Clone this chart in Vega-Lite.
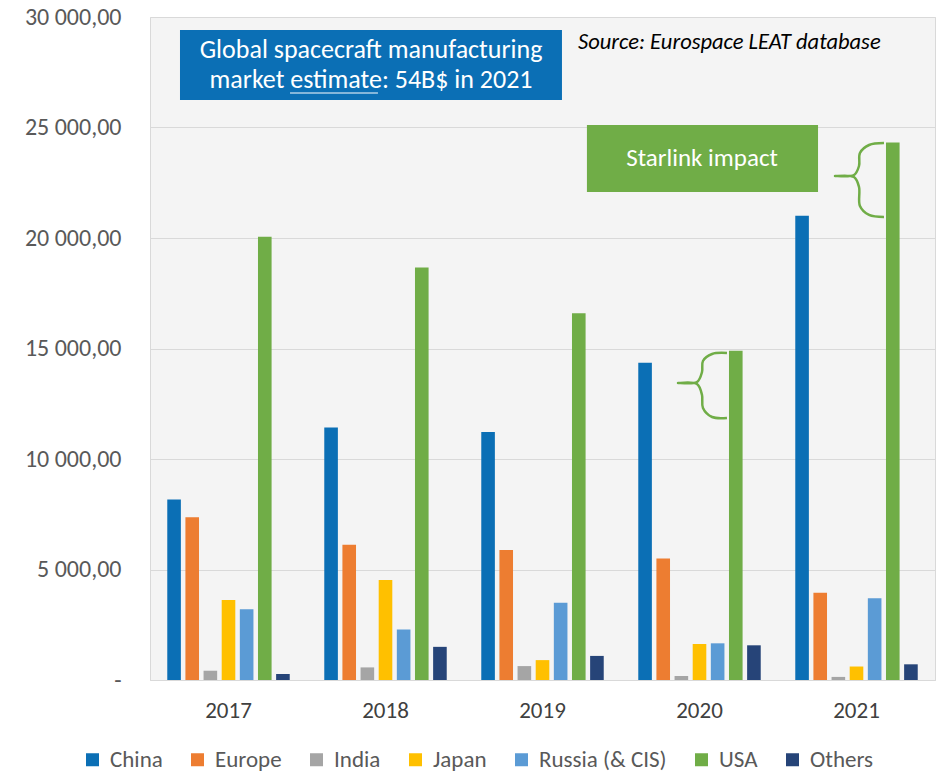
{
  "$schema": "https://vega.github.io/schema/vega-lite/v6.json",
  "width": 785,
  "height": 663,
  "autosize": {"type": "none"},
  "padding": {"left": 150, "top": 17, "right": 17, "bottom": 93},
  "background": "white",
  "config": {
    "font": "Carlito, Lato, sans-serif",
    "view": {"stroke": "#d9d9d9", "fill": "#f4f4f4"},
    "axis": {"labelFont": "Carlito, Lato, sans-serif", "labelFontSize": 23, "labelColor": "#595959"},
    "legend": {"labelFont": "Carlito, Lato, sans-serif"}
  },
  "datasets": {
    "market": [
      {"year": "2017", "region": "China", "value": 8170},
      {"year": "2017", "region": "Europe", "value": 7360},
      {"year": "2017", "region": "India", "value": 420},
      {"year": "2017", "region": "Japan", "value": 3620},
      {"year": "2017", "region": "Russia (& CIS)", "value": 3200},
      {"year": "2017", "region": "USA", "value": 20060},
      {"year": "2017", "region": "Others", "value": 270},
      {"year": "2018", "region": "China", "value": 11430},
      {"year": "2018", "region": "Europe", "value": 6120},
      {"year": "2018", "region": "India", "value": 570},
      {"year": "2018", "region": "Japan", "value": 4520},
      {"year": "2018", "region": "Russia (& CIS)", "value": 2290},
      {"year": "2018", "region": "USA", "value": 18670},
      {"year": "2018", "region": "Others", "value": 1500},
      {"year": "2019", "region": "China", "value": 11220},
      {"year": "2019", "region": "Europe", "value": 5880},
      {"year": "2019", "region": "India", "value": 630},
      {"year": "2019", "region": "Japan", "value": 900},
      {"year": "2019", "region": "Russia (& CIS)", "value": 3500},
      {"year": "2019", "region": "USA", "value": 16590},
      {"year": "2019", "region": "Others", "value": 1090},
      {"year": "2020", "region": "China", "value": 14360},
      {"year": "2020", "region": "Europe", "value": 5500},
      {"year": "2020", "region": "India", "value": 180},
      {"year": "2020", "region": "Japan", "value": 1630},
      {"year": "2020", "region": "Russia (& CIS)", "value": 1660},
      {"year": "2020", "region": "USA", "value": 14900},
      {"year": "2020", "region": "Others", "value": 1570},
      {"year": "2021", "region": "China", "value": 21010},
      {"year": "2021", "region": "Europe", "value": 3950},
      {"year": "2021", "region": "India", "value": 140},
      {"year": "2021", "region": "Japan", "value": 610},
      {"year": "2021", "region": "Russia (& CIS)", "value": 3700},
      {"year": "2021", "region": "USA", "value": 24320},
      {"year": "2021", "region": "Others", "value": 710}
    ],
    "braces": [
      {"brace": "2020", "i": 1, "u": 3.675, "v": 14796},
      {"brace": "2020", "i": 2, "u": 3.580, "v": 14751},
      {"brace": "2020", "i": 3, "u": 3.522, "v": 14434},
      {"brace": "2020", "i": 4, "u": 3.516, "v": 13937},
      {"brace": "2020", "i": 5, "u": 3.484, "v": 13484},
      {"brace": "2020", "i": 6, "u": 3.363, "v": 13439},
      {"brace": "2020", "i": 7, "u": 3.484, "v": 13394},
      {"brace": "2020", "i": 8, "u": 3.516, "v": 12896},
      {"brace": "2020", "i": 9, "u": 3.522, "v": 12308},
      {"brace": "2020", "i": 10, "u": 3.580, "v": 11900},
      {"brace": "2020", "i": 11, "u": 3.675, "v": 11855},
      {"brace": "2021", "i": 1, "u": 4.675, "v": 24299},
      {"brace": "2021", "i": 2, "u": 4.580, "v": 24208},
      {"brace": "2021", "i": 3, "u": 4.522, "v": 23846},
      {"brace": "2021", "i": 4, "u": 4.516, "v": 23258},
      {"brace": "2021", "i": 5, "u": 4.484, "v": 22851},
      {"brace": "2021", "i": 6, "u": 4.363, "v": 22805},
      {"brace": "2021", "i": 7, "u": 4.484, "v": 22760},
      {"brace": "2021", "i": 8, "u": 4.516, "v": 22308},
      {"brace": "2021", "i": 9, "u": 4.522, "v": 21448},
      {"brace": "2021", "i": 10, "u": 4.580, "v": 21041},
      {"brace": "2021", "i": 11, "u": 4.675, "v": 20950}
    ],
    "one": [{}]
  },
  "resolve": {"scale": {"x": "independent"}},
  "layer": [
    {
      "data": {"name": "market"},
      "mark": {"type": "bar"},
      "encoding": {
        "x": {
          "field": "year", "type": "nominal",
          "scale": {"paddingInner": 0.22, "paddingOuter": 0.11},
          "axis": {"title": null, "labelAngle": 0, "ticks": false, "domainColor": "#d9d9d9", "labelPadding": 19, "labelColor": "#404040"}
        },
        "xOffset": {
          "field": "region", "type": "nominal",
          "scale": {"domain": ["China", "Europe", "India", "Japan", "Russia (& CIS)", "USA", "Others"], "paddingInner": 0.25, "paddingOuter": 0}
        },
        "y": {
          "field": "value", "type": "quantitative",
          "scale": {"domain": [0, 30000], "nice": false},
          "axis": {
            "title": null, "values": [0, 5000, 10000, 15000, 20000, 25000, 30000],
            "domain": false, "ticks": false, "labelPadding": 29, "gridColor": "#d9d9d9", "labelFontSize": 24,
            "labelExpr": "datum.value == 0 ? '-' : replace(replace(format(datum.value, ',.2f'), ',', ' '), '.', ',')"
          }
        },
        "color": {
          "field": "region", "type": "nominal",
          "scale": {
            "domain": ["China", "Europe", "India", "Japan", "Russia (& CIS)", "USA", "Others"],
            "range": ["#0B6FB5", "#ED7D31", "#A5A5A5", "#FFC000", "#5B9BD5", "#70AD47", "#264478"]
          },
          "legend": {
            "title": null, "orient": "none", "legendX": -69, "legendY": 731, "direction": "horizontal",
            "symbolType": "square", "symbolSize": 169, "symbolStrokeWidth": 0, "symbolOpacity": 1,
            "labelFontSize": 23, "labelColor": "#595959", "columnPadding": 23, "labelOffset": 6
          }
        }
      }
    },
    {
      "data": {"name": "one"},
      "mark": {"type": "rect", "color": "#0B6FB5"},
      "encoding": {
        "x": {"datum": 0.191, "type": "quantitative", "scale": {"domain": [0, 5], "nice": false, "zero": false}, "axis": null},
        "x2": {"datum": 2.624},
        "y": {"datum": 29412, "type": "quantitative"},
        "y2": {"datum": 26244}
      }
    },
    {
      "data": {"name": "one"},
      "mark": {"type": "text", "color": "white", "fontSize": 26, "align": "center", "baseline": "middle", "lineHeight": 30},
      "encoding": {
        "x": {"datum": 1.408, "type": "quantitative", "scale": {"domain": [0, 5], "nice": false, "zero": false}, "axis": null},
        "y": {"datum": 28507, "type": "quantitative"},
        "text": {"value": ["Global spacecraft manufacturing", "market estimate: 54B$ in 2021"]}
      }
    },
    {
      "data": {"name": "one"},
      "mark": {"type": "rule", "color": "white", "strokeWidth": 1},
      "encoding": {
        "x": {"datum": 0.892, "type": "quantitative", "scale": {"domain": [0, 5], "nice": false, "zero": false}, "axis": null},
        "x2": {"datum": 1.452},
        "y": {"datum": 26561, "type": "quantitative"}
      }
    },
    {
      "data": {"name": "one"},
      "mark": {"type": "text", "color": "black", "fontSize": 22.5, "fontStyle": "italic", "align": "left", "baseline": "middle"},
      "encoding": {
        "x": {"datum": 2.726, "type": "quantitative", "scale": {"domain": [0, 5], "nice": false, "zero": false}, "axis": null},
        "y": {"datum": 28870, "type": "quantitative"},
        "text": {"value": "Source: Eurospace LEAT database"}
      }
    },
    {
      "data": {"name": "one"},
      "mark": {"type": "rect", "color": "#70AD47"},
      "encoding": {
        "x": {"datum": 2.783, "type": "quantitative", "scale": {"domain": [0, 5], "nice": false, "zero": false}, "axis": null},
        "x2": {"datum": 4.255},
        "y": {"datum": 25113, "type": "quantitative"},
        "y2": {"datum": 22081}
      }
    },
    {
      "data": {"name": "one"},
      "mark": {"type": "text", "color": "white", "fontSize": 25, "align": "center", "baseline": "middle"},
      "encoding": {
        "x": {"datum": 3.516, "type": "quantitative", "scale": {"domain": [0, 5], "nice": false, "zero": false}, "axis": null},
        "y": {"datum": 23620, "type": "quantitative"},
        "text": {"value": "Starlink impact"}
      }
    },
    {
      "data": {"name": "braces"},
      "mark": {"type": "line", "color": "#70AD47", "strokeWidth": 2.5, "interpolate": "catmull-rom"},
      "encoding": {
        "x": {"field": "u", "type": "quantitative", "scale": {"domain": [0, 5], "nice": false, "zero": false}, "axis": null},
        "y": {"field": "v", "type": "quantitative"},
        "detail": {"field": "brace"},
        "order": {"field": "i"}
      }
    }
  ]
}
